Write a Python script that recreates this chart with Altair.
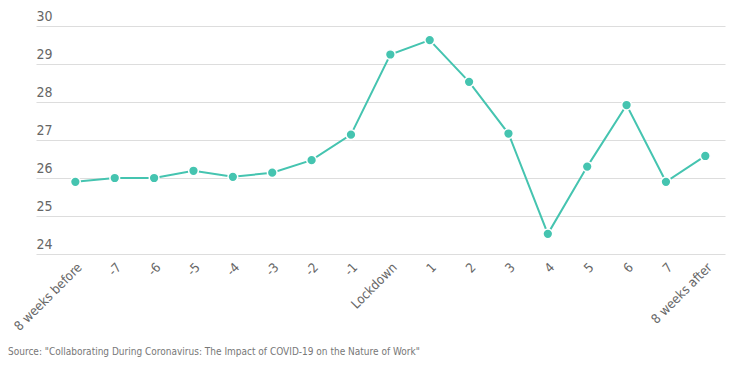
import altair as alt
import pandas as pd

labels = ["8 weeks before", "-7", "-6", "-5", "-4", "-3", "-2", "-1", "Lockdown",
          "1", "2", "3", "4", "5", "6", "7", "8 weeks after"]
values = [25.90, 26.00, 26.00, 26.19, 26.03, 26.14, 26.47, 27.14, 29.25,
          29.63, 28.53, 27.17, 24.53, 26.30, 27.92, 25.90, 26.58]
y_ticks = [24, 25, 26, 27, 28, 29, 30]
source = "Source: \"Collaborating During Coronavirus: The Impact of COVID-19 on the Nature of Work\""

df = pd.DataFrame({"idx": list(range(len(labels))), "label": labels, "value": values})

label_expr = "[" + ",".join('"%s"' % l for l in labels) + "][datum.value]"

FONT = "DejaVu Sans Condensed, Liberation Sans, sans-serif"
COLOR = "#45C4B0"

x = alt.X("idx:Q",
          scale=alt.Scale(domain=[-1, 16.5], nice=False, zero=False),
          axis=alt.Axis(values=list(range(len(labels))), labelExpr=label_expr,
                        labelAngle=315, labelAlign="right", labelBaseline="middle",
                        labelPadding=11, labelOffset=4, ticks=False, domain=False, grid=False,
                        labelFontSize=13, labelColor="#666666", labelFont=FONT,
                        labelOverlap=False, labelBound=False, title=None))
y = alt.Y("value:Q",
          scale=alt.Scale(domain=[24, 30], nice=False, zero=False),
          axis=alt.Axis(values=y_ticks, labelAlign="left", labelBaseline="bottom",
                        labelPadding=0, labelOffset=-3, ticks=False, domain=False,
                        grid=True, gridColor="#dddddd", gridWidth=1,
                        labelFontSize=14, labelColor="#666666", labelFont=FONT,
                        title=None))

base = alt.Chart(df)
line = base.mark_line(color=COLOR, strokeWidth=2).encode(x=x, y=y)
pts = base.mark_point(filled=True, color=COLOR, size=95, opacity=1,
                      stroke="white", strokeWidth=1.5).encode(x=x, y=y)

chart = (line + pts).properties(
    width=689, height=228,
    autosize=alt.AutoSizeParams(type="none"),
    padding={"left": 28, "top": 18, "right": 5, "bottom": 110},
    title=alt.TitleParams(source, orient="bottom", anchor="start", frame="group",
                          dx=-28, offset=14, fontSize=10, font=FONT,
                          fontWeight="normal", color="#777777"),
).configure_view(stroke=None)

chart.save("out.html", embed_options={"renderer": "svg", "actions": False})
